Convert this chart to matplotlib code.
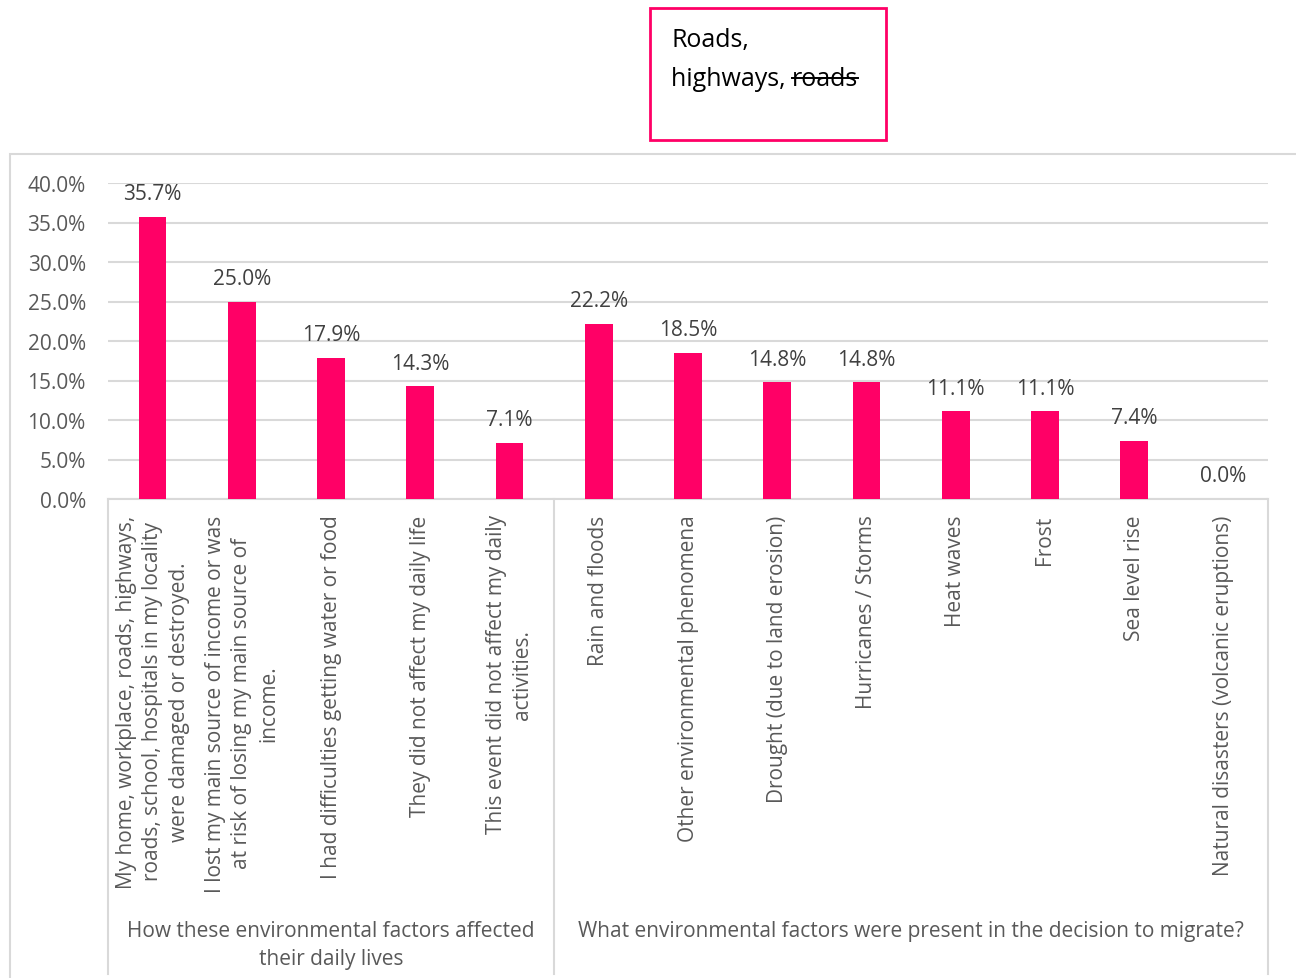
import matplotlib
matplotlib.use("Agg")
import matplotlib.pyplot as plt
from matplotlib.patches import Rectangle
from matplotlib.transforms import blended_transform_factory
from matplotlib.lines import Line2D

plt.rcParams['font.family'] = ['Open Sans', 'DejaVu Sans']

categories = [
    "My home, workplace, roads, highways,\nroads, school, hospitals in my locality\nwere damaged or destroyed.",
    "I lost my main source of income or was\nat risk of losing my main source of\nincome.",
    "I had difficulties getting water or food",
    "They did not affect my daily life",
    "This event did not affect my daily\nactivities.",
    "Rain and floods",
    "Other environmental phenomena",
    "Drought (due to land erosion)",
    "Hurricanes / Storms",
    "Heat waves",
    "Frost",
    "Sea level rise",
    "Natural disasters (volcanic eruptions)",
]
values = [35.7, 25.0, 17.9, 14.3, 7.1, 22.2, 18.5, 14.8, 14.8, 11.1, 11.1, 7.4, 0.0]
groups = [
    "How these environmental factors affected\ntheir daily lives",
    "What environmental factors were present in the decision to migrate?",
]
group_sizes = [5, 8]
yticks = [0, 5, 10, 15, 20, 25, 30, 35, 40]

W, H = 1296, 979
BAR = '#FF0066'
GRID = '#D9D9D9'
TXT = '#595959'
FS = 15

fig = plt.figure(figsize=(W / 100, H / 100), dpi=100)
fig.patch.set_facecolor('white')

# outer chart border
fig.patches.append(Rectangle((10 / W, -0.01), 1.0, 1 - 155 / H + 0.01, transform=fig.transFigure,
                             fill=False, edgecolor=GRID, lw=1.5))

ax = fig.add_axes([108 / W, 1 - 500 / H, 1160 / W, 316 / H])
x = list(range(len(values)))
bars = ax.bar(x, values, width=0.31, color=BAR, zorder=3)
ax.set_xlim(-0.5, len(values) - 0.5)
ax.set_ylim(0, 40)
ax.set_yticks(yticks)
ax.set_yticklabels([f"{v:.1f}%" for v in yticks], fontsize=FS, color=TXT)
ax.yaxis.grid(True, color=GRID, lw=1.5, zorder=0)
ax.tick_params(axis='y', length=0, pad=16)
for s in ['left', 'right', 'top']:
    ax.spines[s].set_visible(False)
ax.spines['bottom'].set_color(GRID)
ax.spines['bottom'].set_linewidth(1.5)

ax.set_xticks(x)
ax.set_xticklabels(categories, rotation=90, ha='center', va='top', multialignment='center',
                   fontsize=FS, color=TXT, linespacing=1.35)
ax.tick_params(axis='x', length=0, pad=11)

ax.bar_label(bars, labels=[f"{v:.1f}%" for v in values], padding=9, fontsize=FS, color='#404040')

tr = blended_transform_factory(ax.transData, ax.transAxes)
bottom = (500 - 975) / 316.0
start = 0
bounds = [-0.5]
for g, n in zip(groups, group_sizes):
    center = start + (n - 1) / 2
    bounds.append(start + n - 0.5)
    ax.text(center, (500 - 921) / 316.0, g, transform=tr, ha='center', va='top',
            multialignment='center', fontsize=FS, color=TXT, linespacing=1.42)
    start += n
for b in bounds:
    ax.add_line(Line2D([b, b], [0, bottom], transform=tr, color=GRID, lw=1.5, clip_on=False))

# text box at top
fig.patches.append(Rectangle((650 / W, 1 - 141 / H), 236 / W, 132 / H, transform=fig.transFigure,
                             fill=False, edgecolor=BAR, lw=2))
fig.text(671 / W, 1 - 41 / H, "Roads,", fontsize=18, color='black', va='center', ha='left')
t2 = fig.text(671 / W, 1 - 80 / H, "highways, ", fontsize=18, color='black', va='center', ha='left')
fig.canvas.draw()
r = fig.canvas.get_renderer()
bb = t2.get_window_extent(r)
t3 = fig.text(bb.x1 / W, 1 - 80 / H, "roads", fontsize=18, color='black', va='center', ha='left')
bb3 = t3.get_window_extent(r)
ymid = (1 - 80 / H) + 1 / H
fig.add_artist(Line2D([bb3.x0 / W, bb3.x1 / W], [ymid, ymid], transform=fig.transFigure,
                      color='black', lw=1.4))

fig.savefig('out.png', dpi=100)
